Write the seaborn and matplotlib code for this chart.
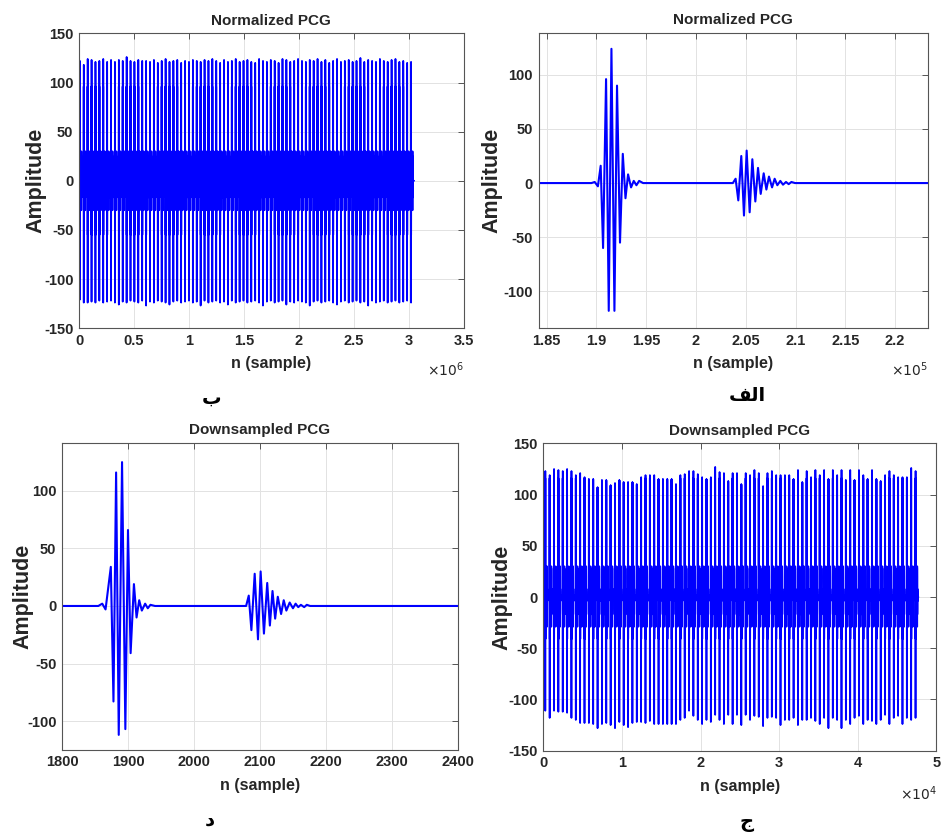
import numpy as np
import pandas as pd
import matplotlib
matplotlib.use("Agg")
import matplotlib.pyplot as plt
import seaborn as sns
from matplotlib.ticker import FuncFormatter, MultipleLocator

# ---- one cardiac cycle, full rate (extrema) ----
s1_n = [189500, 189830, 190150, 190430, 190670, 190970, 191240, 191510, 191810,
        192070, 192370, 192650, 192920, 193180, 193480, 193750, 194020, 194290, 194690]
s1_amp = [0, 1, -3, 16, -60, 96, -118, 124, -118, 90, -55, 27, -14, 8, -4, 2, -2, 2, 0]
s2_n = [203700, 203980, 204250, 204550, 204820, 205090, 205390, 205660, 205960, 206230,
        206500, 206800, 207070, 207330, 207640, 207900, 208170, 208470, 208740, 209040,
        209310, 209580, 209950]
s2_amp = [0, 4, -16, 25, -30, 30, -27, 22, -17, 14, -10, 9, -6, 6, -4, 4, -2, 2, -1.5, 1, -1, 1, 0]

# ---- one cardiac cycle, downsampled ----
ds_s1_n = [1855, 1861, 1866, 1874, 1878, 1882, 1886, 1891, 1896, 1900, 1904, 1909, 1913,
           1917, 1921, 1926, 1930, 1934, 1941]
ds_s1_amp = [0, 2, -3, 34, -83, 116, -112, 125, -107, 66, -41, 19, -10, 5, -4, 2, -2, 1, 0]
ds_s2_n = [2079, 2083, 2087, 2092, 2097, 2101, 2106, 2111, 2115, 2119, 2123, 2127, 2132,
           2136, 2140, 2145, 2150, 2154, 2158, 2162, 2167, 2171, 2176]
ds_s2_amp = [0, 9, -21, 28, -29, 30, -24, 20, -17, 13, -11, 8, -7, 5, -4, 3, -2, 2, -1, 1, -1, 1, 0]

# ---- whole recording: per-beat S1 peak / trough ----
full_first_beat = 6000      # sample where the first S1 starts
full_period = 35456         # samples per beat
full_end = 3050000
full_tops = [122, 118, 124, 123, 121, 122, 124, 121, 123, 121,
             123, 122, 126, 122, 121, 123, 122, 122, 121, 123,
             120, 122, 124, 121, 122, 123, 120, 122, 121, 123,
             122, 121, 123, 122, 124, 122, 120, 123, 121, 122,
             124, 121, 122, 123, 121, 120, 124, 122, 121, 123,
             122, 120, 124, 123, 121, 122, 124, 122, 121, 123,
             122, 124, 121, 123, 120, 122, 124, 121, 122, 123,
             121, 122, 125, 121, 123, 122, 121, 124, 122, 121,
             123, 124, 121, 122, 120, 121]
full_bottoms = [-121, -124, -124, -123, -124, -122, -124, -123, -122, -124,
                -126, -123, -124, -122, -123, -124, -122, -127, -123, -124,
                -122, -123, -124, -126, -123, -122, -124, -123, -122, -124,
                -123, -127, -122, -124, -123, -122, -124, -123, -126, -122,
                -124, -123, -122, -124, -123, -122, -124, -127, -123, -122,
                -124, -123, -122, -126, -123, -124, -122, -123, -124, -127,
                -123, -122, -124, -123, -122, -124, -126, -123, -122, -124,
                -123, -122, -124, -123, -127, -122, -124, -123, -122, -124,
                -123, -122, -124, -123, -122, -124]

ds_first_beat = 214
ds_period = 554
ds_end = 47700
ds_tops = [123, 119, 125, 124, 123, 125, 123, 119, 121, 117,
           115, 115, 107, 114, 114, 109, 111, 114, 112, 112,
           112, 110, 117, 119, 119, 119, 115, 115, 115, 115,
           110, 119, 120, 123, 123, 120, 117, 115, 117, 127,
           122, 121, 113, 121, 121, 110, 121, 119, 124, 121,
           108, 121, 123, 119, 119, 119, 119, 115, 124, 112,
           123, 117, 124, 119, 124, 115, 124, 119, 124, 114,
           124, 114, 124, 119, 115, 124, 115, 113, 119, 123,
           119, 117, 117, 117, 126, 123]
ds_bottoms = [-111, -118, -111, -112, -112, -113, -118, -120, -123, -123,
              -123, -124, -128, -124, -123, -125, -128, -122, -125, -127,
              -123, -122, -122, -123, -121, -124, -124, -124, -124, -124,
              -124, -120, -118, -111, -116, -120, -124, -120, -122, -115,
              -120, -124, -115, -124, -115, -125, -115, -120, -116, -117,
              -126, -118, -117, -118, -125, -120, -120, -118, -125, -120,
              -120, -118, -121, -124, -118, -128, -118, -120, -128, -120,
              -124, -118, -116, -124, -120, -121, -124, -120, -115, -124,
              -118, -116, -124, -118, -120, -118]


def single_cycle(a_n, a_amp, b_n, b_amp, x0, x1):
    return pd.DataFrame({"n": [x0] + a_n + b_n + [x1],
                         "amp": [0] + a_amp + b_amp + [0]})


def beat_train(a_n, a_amp, b_n, b_amp, first, period, tops, bottoms, x_end):
    """Repeat the read cycle, with each beat's S1 peak/trough as read."""
    offs = np.array(a_n + b_n) - a_n[0]
    amps = np.array(a_amp + b_amp, dtype=float)
    i_max, i_min = np.argmax(amps), np.argmin(amps)
    xs, ys = [0], [0.0]
    for k, (top, bot) in enumerate(zip(tops, bottoms)):
        a = np.clip(amps, bot, top)
        a[i_max], a[i_min] = top, bot
        xs.extend(first + k * period + offs)
        ys.extend(a)
    xs.append(x_end)
    ys.append(0.0)
    return pd.DataFrame({"n": xs, "amp": ys})


sns.set_theme(style="white")
plt.rcParams["font.family"] = ["Liberation Sans", "DejaVu Sans"]
plt.rcParams["axes.unicode_minus"] = False

fig = plt.figure(figsize=(9.45, 8.35), dpi=100)
ax_tl = fig.add_axes([0.0836, 0.607, 0.407, 0.353])
ax_tr = fig.add_axes([0.570, 0.607, 0.412, 0.354])
ax_bl = fig.add_axes([0.0656, 0.102, 0.419, 0.368])
ax_br = fig.add_axes([0.575, 0.101, 0.416, 0.368])

panels = [
    (ax_tl, beat_train(s1_n, s1_amp, s2_n, s2_amp, full_first_beat, full_period,
                       full_tops, full_bottoms, full_end),
     "Normalized PCG", (0, 3.5e6), (-150, 150), 0.5e6, 1e6, "6", -0.084, 1.25),
    (ax_tr, single_cycle(s1_n, s1_amp, s2_n, s2_amp, 184000, 224000),
     "Normalized PCG", (1.842e5, 2.233e5), (-134, 139), 5000, 1e5, "5", -0.092, 1.5),
    (ax_bl, single_cycle(ds_s1_n, ds_s1_amp, ds_s2_n, ds_s2_amp, 1790, 2410),
     "Downsampled PCG", (1800, 2400), (-125, 142), 100, None, None, -0.073, 1.5),
    (ax_br, beat_train(ds_s1_n, ds_s1_amp, ds_s2_n, ds_s2_amp, ds_first_beat, ds_period,
                       ds_tops, ds_bottoms, ds_end),
     "Downsampled PCG", (0, 5e4), (-150, 150), 1e4, 1e4, "4", -0.078, 1.25),
]

for ax, df, title, xlim, ylim, xstep, scale, expo, ylab_x, lw in panels:
    sns.lineplot(data=df, x="n", y="amp", ax=ax, color="blue", lw=lw,
                 estimator=None, sort=False)
    ax.set_xlim(*xlim)
    ax.set_ylim(*ylim)
    ax.xaxis.set_major_locator(MultipleLocator(xstep))
    ax.yaxis.set_major_locator(MultipleLocator(50))
    if scale:
        ax.xaxis.set_major_formatter(FuncFormatter(lambda v, p, s=scale: f"{v / s:g}"))
        ax.text(1.0, -0.14, rf"$\times10^{{{expo}}}$", transform=ax.transAxes,
                ha="right", va="center", fontsize=10, color="#262626")
    ax.grid(True, color="#e2e2e2", lw=0.7)
    ax.set_axisbelow(True)
    for sp in ax.spines.values():
        sp.set_color("#555555")
        sp.set_linewidth(0.8)
    ax.tick_params(direction="in", top=True, right=True, length=4, width=0.7,
                   colors="#555555", labelcolor="#262626", labelsize=10.5, pad=4)
    for lab in ax.get_xticklabels() + ax.get_yticklabels():
        lab.set_fontweight("bold")
    ax.set_title(title, fontsize=11, fontweight="bold", color="#262626", pad=6)
    ax.set_xlabel("n (sample)", fontsize=11.5, fontweight="bold", color="#262626", labelpad=6)
    ax.set_ylabel("Amplitude", fontsize=15.5, fontweight="bold", color="#262626")
    ax.yaxis.set_label_coords(ylab_x, 0.5)

# panel letters (Persian); "الف" written in visual order with presentation forms
fa = dict(ha="center", va="center", fontsize=14, fontweight="bold",
          family=["DejaVu Sans"], color="black")
fig.text(212 / 945, 1 - 398 / 835, "ب", **fa)
fig.text(747 / 945, 1 - 395 / 835, "\ufed2\ufedf\ufe8d", **fa)
fig.text(210 / 945, 1 - 820 / 835, "د", **fa)
fig.text(747 / 945, 1 - 823 / 835, "ج", **fa)

fig.savefig("out.png", dpi=100, facecolor="white")
